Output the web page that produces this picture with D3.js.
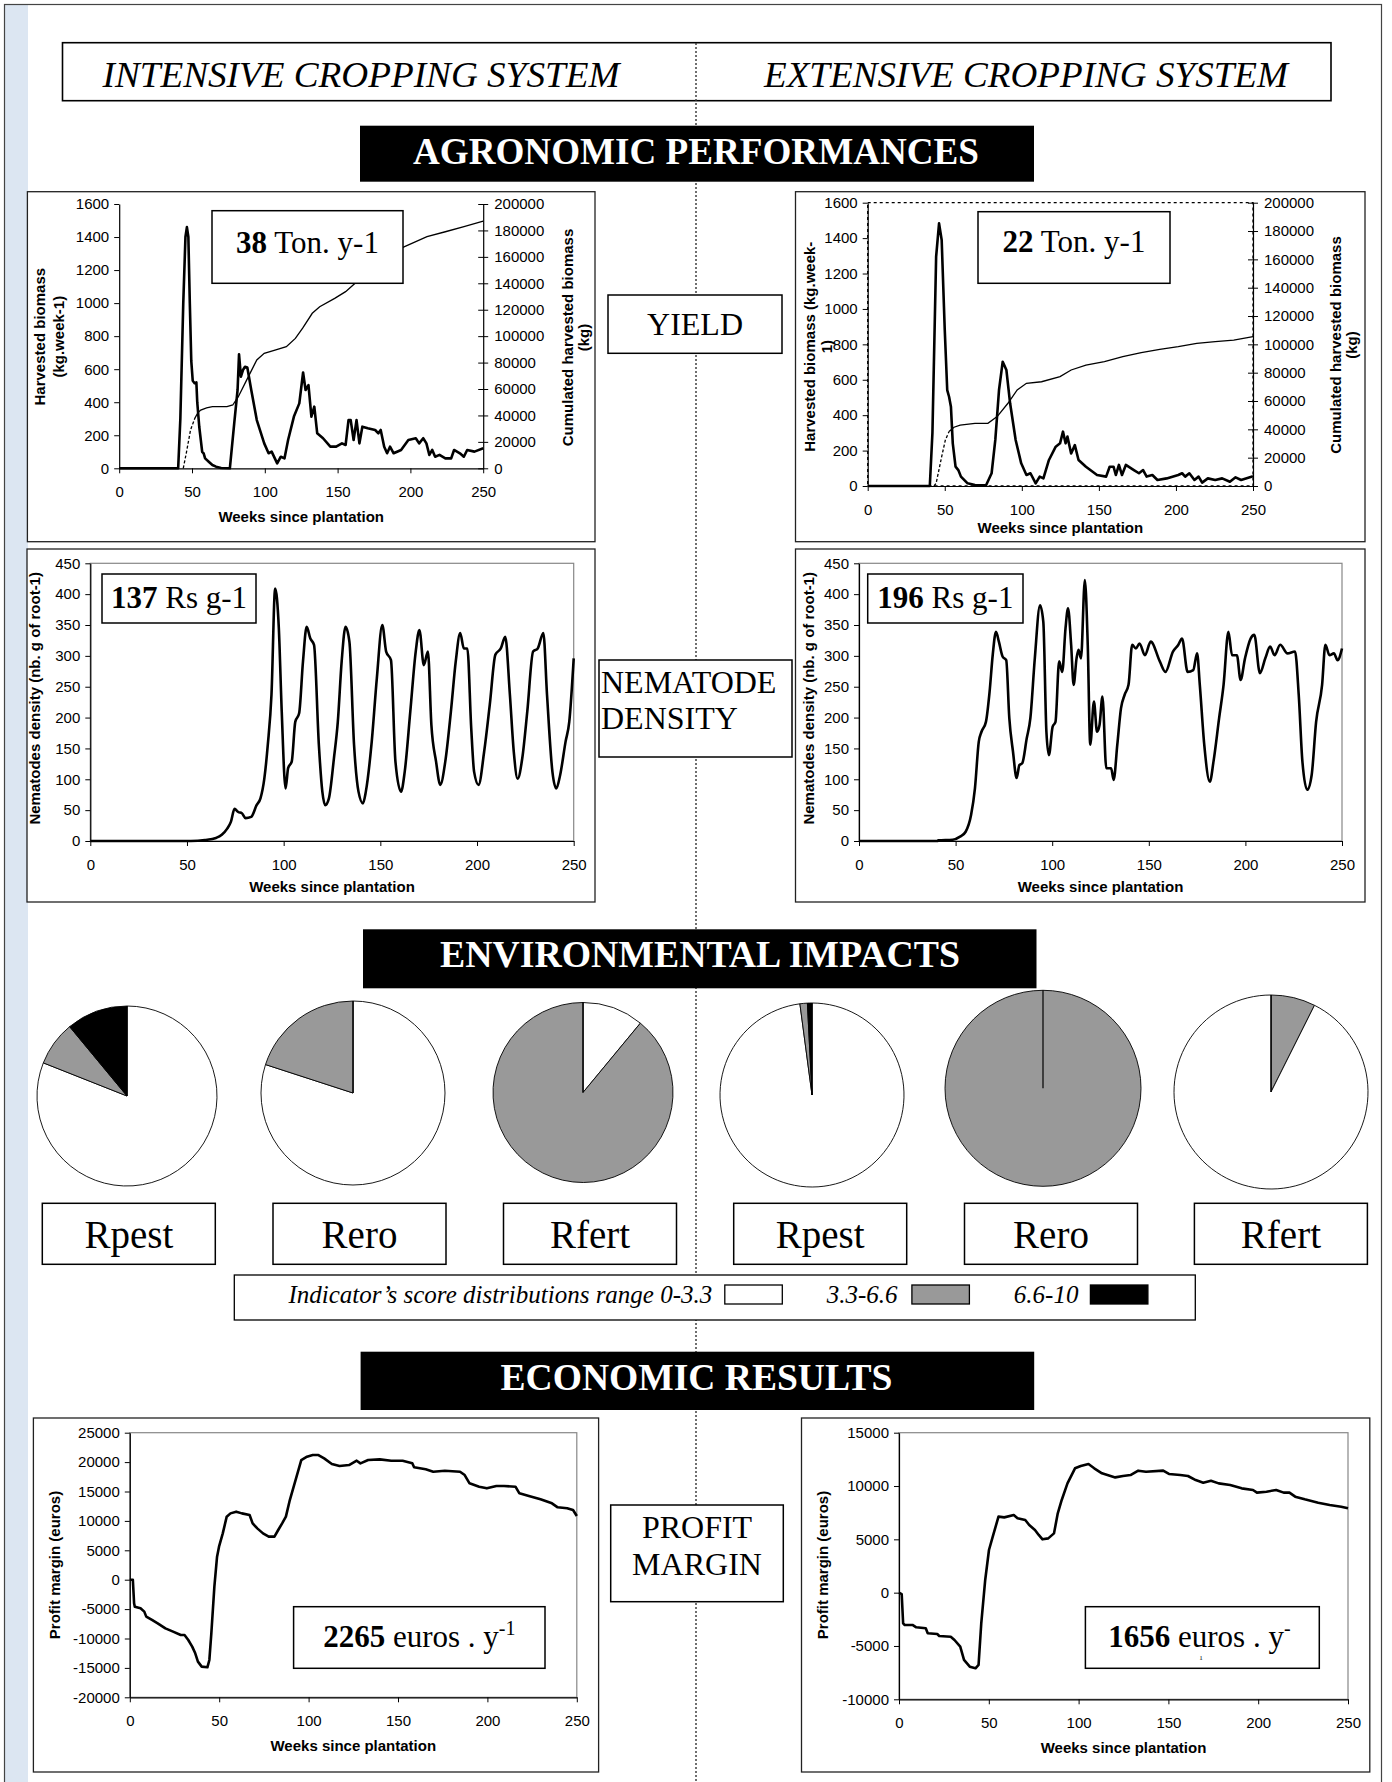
<!DOCTYPE html>
<html>
<head>
<meta charset="utf-8">
<script src="https://cdn.jsdelivr.net/npm/d3@7"></script>
<style>
  body { margin: 0; background: #fff; }
</style>
</head>
<body>
<script>
// ---- Data ----
var weekTicks = [0, 50, 100, 150, 200, 250];

// weekly harvested biomass (kg.week-1), [week, value]
var yieldIntensive = [[0,0],[40.5,0],[42,300],[44,1000],[45.5,1400],[46.5,1460],[47.5,1400],[48.5,1000],[49.5,650],[50.5,530],[51.8,515],[53,520],[53.6,400],[55,250],[57,100],[58,90],[59,60],[61.5,40],[64,20],[66.5,10],[70,2],[76,0],[79,272],[81.3,474],[82.3,690],[83.6,555],[85,595],[86.4,615],[88,610],[90.7,474],[94.5,292],[99.6,151],[102.6,91],[104.7,101],[108.5,30],[111,70],[113.5,60],[116,171],[120,313],[123.7,393],[126.3,580],[128,474],[130,504],[132,313],[134,373],[136,212],[140,182],[145,131],[149,131],[153,151],[155.5,141],[157.5,292],[159,292],[161,171],[163,292],[165,151],[167,252],[170.7,242],[175.8,232],[178,212],[179.6,232],[182,131],[184,91],[186,131],[188.5,91],[193.6,111],[198.6,171],[203.7,182],[206,151],[208.8,182],[211,151],[213,81],[215,111],[217,70],[220,81],[224,60],[228,60],[230,111],[234,91],[236.7,70],[239,111],[244,101],[250,121]];
var yieldExtensive = [[0,0],[40.3,0],[42,300],[44.4,1295],[46.3,1483],[48,1389],[50,881],[51.6,542],[52.8,504],[54,448],[55.2,241],[57,109],[58.8,90],[60.5,53],[64.8,15],[69.6,6],[76.8,4],[80.4,72],[82.8,260],[85.2,542],[87.6,702],[90,655],[92.4,467],[96,260],[99.6,128],[103,62],[105.6,72],[109,15],[111.6,53],[114,43],[117.6,147],[122,222],[124.8,241],[126.7,307],[128.4,241],[129.6,279],[132,184],[134.4,231],[136.8,147],[141.6,109],[148.8,62],[154.7,53],[157,109],[159.5,109],[161,62],[163,119],[165,62],[167.5,119],[172.7,90],[176,72],[178.7,90],[181,53],[184.7,62],[188,34],[194,43],[201.5,62],[204,72],[206,53],[208.7,72],[212,34],[214.7,53],[217,19],[220.7,43],[225.5,34],[230,43],[235,24],[238.7,49],[242.3,34],[249.5,53],[250,50]];

// cumulated harvested biomass (kg)
var cumIntensive = [[0,0],[44,0],[46,11000],[49,29000],[52,38000],[54,42000],[56,44100],[60,45800],[64,46600],[74,46700],[78,47900],[81.8,54200],[87,65600],[94.5,82000],[99.6,87000],[107,89500],[114.8,92000],[121,98300],[126,106000],[132.6,117300],[137.7,122300],[148,128600],[155.5,133700],[162,140000],[167,147500],[170.7,153800],[181,160100],[196,167700],[211.4,175300],[224,179000],[236.8,182900],[250,187000]];
var cumExtensive = [[0,0],[43,0],[44.4,1900],[48,20700],[50.4,32500],[52.8,38400],[56,41500],[60,43000],[69.6,44200],[78,44200],[84,49000],[91,58400],[97,67800],[103,72500],[112.8,73600],[124.8,77200],[132,81900],[141.6,85400],[153.6,87800],[165.5,91300],[177.5,94100],[189.5,96500],[201.5,98400],[213.5,100700],[225.5,101900],[237.5,103000],[250,105400]];

// nematode density (nb. g of root-1)
var nemIntensive = [[0,0],[52,0],[59.3,1.6],[65,5],[68,10],[70.8,20],[72.7,31],[74.6,52],[76.5,47],[78.4,45],[80.3,37],[83.2,39],[86,58],[88,69],[90,101],[91.8,156],[93.7,237],[95.6,409],[97.5,345],[99,210],[101,85],[102.3,118],[104.2,129],[106,193],[108,207],[110,291],[111.9,347],[113.8,328],[115.7,318],[118.2,156],[120,80],[121.5,58],[123.4,69],[126,134],[128,193],[130,291],[132,347],[134,323],[136.4,156],[138.7,80],[141,61],[142.5,80],[145.4,156],[148.2,264],[151,350],[153,307],[155.5,293],[157.8,129],[160.7,80],[162.6,112],[165.5,210],[168.3,307],[170.2,342],[172.5,285],[174.6,307],[176.4,188],[178.8,129],[181,91],[183.6,129],[186.5,210],[189,291],[191.3,337],[193.2,312],[195,312],[197,183],[198.5,112],[200.8,91],[203.7,145],[206.6,221],[209.5,302],[212.3,312],[214.6,331],[217,237],[219,145],[221,101],[223.4,134],[226,210],[229,307],[231.4,312],[234.3,337],[236.2,237],[239,112],[241,85],[243,107],[245.8,161],[247.7,193],[250,296]];
var nemExtensive = [[0,0],[40.8,0],[41,1],[48.5,2],[52.3,7],[55.2,15],[58,42],[60,85],[62,161],[63.4,177],[65.7,193],[67.6,242],[69.2,301],[70.9,339],[72.4,323],[74.3,299],[76.2,293],[77.8,199],[79.7,145],[81.6,102],[83,123],[84.5,126],[86.8,166],[88.7,199],[91,296],[93.7,382],[95.4,355],[97,177],[98.3,139],[100.2,185],[101.7,193],[103.6,291],[105.2,274],[106.9,345],[108.2,377],[109.8,318],[111.1,253],[112.6,296],[113.6,310],[114.9,296],[116.9,423],[118.4,318],[119.7,156],[121.6,226],[123.2,177],[124.5,188],[126,234],[128,118],[130.5,118],[131.8,99],[133.7,156],[135.6,215],[137.5,237],[139.5,253],[141.4,318],[143.3,312],[145.2,320],[148,301],[151,323],[155.7,291],[158.6,274],[162.5,307],[165.3,318],[167.2,328],[170.1,274],[173,277],[175,304],[176.4,253],[178.7,156],[181.6,96],[183.5,129],[186.4,199],[188.7,253],[191.2,339],[193.1,301],[195.6,301],[197.5,261],[199.8,296],[202.7,328],[204.6,334],[207.5,272],[210.3,296],[212.8,315],[215.1,301],[218,318],[221.8,304],[225.7,307],[227.6,237],[229.5,129],[232,83],[234.3,107],[236.6,193],[239.7,253],[241.4,318],[243.5,301],[245.8,304],[247.7,293],[250,312]];

// profit margin (euros)
var profitIntensive = [[0,0],[1.7,0],[2.4,-4000],[2.8,-4600],[6,-4870],[8.1,-5430],[9.2,-6280],[12.4,-6850],[15.6,-7420],[19.9,-8270],[24.2,-8830],[28.5,-9400],[30.6,-9400],[32.7,-10250],[34.9,-11380],[36.6,-12520],[38.1,-13930],[40.2,-14780],[43.4,-14900],[44.5,-13650],[45.6,-9120],[47.3,-1180],[48.8,3920],[49.9,5620],[52,7880],[54.2,10720],[56.3,11280],[59.5,11570],[62.7,11280],[67,11000],[68.7,9580],[71.3,8730],[74.5,7880],[77.7,7320],[80.9,7320],[83,8450],[85.2,9580],[87.3,10720],[89.5,13550],[92.7,16950],[95.9,20350],[99.1,20920],[102.3,21200],[105.5,21200],[108.7,20640],[113,19670],[117.3,19330],[122.6,19500],[126.9,20240],[129,19790],[133.3,20350],[139.8,20470],[146.2,20240],[152.6,20240],[158,19790],[159,19110],[165.5,18770],[169.7,18370],[176.2,18540],[184.7,18370],[187.3,17800],[190,16390],[195.4,15820],[199.7,15540],[205,15930],[209.3,15930],[215.7,15820],[217.9,14690],[223.2,14230],[229.7,13670],[236.1,12990],[239.3,12310],[244.6,12140],[247.9,11850],[250,10830]];
var profitExtensive = [[0,0],[1.5,-130],[2.3,-2880],[3.2,-3030],[7.5,-3030],[9.6,-3250],[14.9,-3340],[16,-3810],[21.3,-3880],[22.4,-4060],[28.8,-4130],[30.9,-4440],[34.1,-5060],[36.2,-6310],[39.4,-6940],[42.6,-7090],[44.3,-6780],[45.8,-2880],[48,1190],[50.1,4000],[52.2,5250],[55.4,7130],[58.6,7060],[63.9,7280],[66,6970],[70.3,6810],[72.5,6340],[75.7,5880],[77.8,5410],[79.9,5000],[83.1,5090],[86.3,5560],[88.4,7440],[90.6,8690],[93.8,10250],[98,11660],[101.2,11880],[105.5,12060],[108.7,11660],[113,11190],[120.4,10810],[124.7,10940],[128.9,11030],[133.2,11440],[137.5,11340],[147.1,11440],[150.3,11130],[156.6,11030],[160.9,10940],[165.2,10560],[169.4,10310],[173.7,10500],[178,10250],[184.4,10090],[190.8,9780],[197.1,9630],[199.3,9380],[204.6,9470],[210,9630],[214.2,9380],[217.4,9380],[220.6,9000],[225.9,8750],[233.4,8440],[239.8,8220],[246.2,8060],[250,7910]];

// environmental indicators: share of each score class (%)
var pieLabels = ["Rpest", "Rero", "Rfert"];
var scoreClasses = ["0-3.3", "3.3-6.6", "6.6-10"];
var intensiveShares = [[81, 8, 11], [80, 20, 0], [11, 89, 0]];
var extensiveShares = [[97.9, 1.3, 0.8], [0, 100, 0], [92.6, 7.4, 0]];

// ---- Page ----
var W = 1392, H = 1782;
var serif = "'Liberation Serif','Times New Roman',serif";
var sans = "'Liberation Sans',Arial,sans-serif";
var classColor = ["#ffffff", "#999999", "#000000"];

var svg = d3.select("body").append("svg")
  .attr("width", W)
  .attr("height", H)

// outer frame + blue strip on the left
svg.append("rect").attr("x", 5).attr("y", 5).attr("width", 23).attr("height", H)
  .attr("fill", "#dce6f2")
svg.append("rect").attr("x", 4.5).attr("y", 4.5).attr("width", 1377).attr("height", H + 10)
  .attr("fill", "none").attr("stroke", "#444").attr("stroke-width", 1.2)

// header box
svg.append("rect").attr("x", 62.5).attr("y", 42.7).attr("width", 1268.5).attr("height", 58)
  .attr("fill", "#fff").attr("stroke", "#000").attr("stroke-width", 1.6)

// dotted separator between the two systems
svg.append("line").attr("x1", 696).attr("x2", 696).attr("y1", 43).attr("y2", H)
  .attr("stroke", "#333").attr("stroke-width", 1.4).attr("stroke-dasharray", "2,2")

var headers = [["INTENSIVE CROPPING SYSTEM", 361, 517], ["EXTENSIVE CROPPING SYSTEM", 1026, 524]];
headers.forEach(function(h){
  svg.append("text").attr("x", h[1]).attr("y", 87)
    .attr("text-anchor", "middle")
    .attr("textLength", h[2]).attr("lengthAdjust", "spacingAndGlyphs")
    .style("font-family", serif).style("font-style", "italic").style("font-size", "36px")
    .text(h[0])
})

// black section banners
function banner(label, x, y, w, h, cx, base, tl) {
  svg.append("rect").attr("x", x).attr("y", y).attr("width", w).attr("height", h).attr("fill", "#000")
  svg.append("text").attr("x", cx).attr("y", base)
    .attr("text-anchor", "middle")
    .attr("textLength", tl).attr("lengthAdjust", "spacingAndGlyphs")
    .attr("fill", "#fff")
    .style("font-family", serif).style("font-weight", "bold").style("font-size", "38px")
    .text(label)
}
banner("AGRONOMIC PERFORMANCES", 360, 125.7, 674, 56, 696, 164.3, 566)
banner("ENVIRONMENTAL IMPACTS", 363, 929.3, 673.5, 59, 700, 966.7, 520)
banner("ECONOMIC RESULTS", 360.6, 1351.7, 673.6, 58.3, 696.5, 1390, 392)

// middle labels
function midLabel(lines, x, y, w, h, tx, anchor, bases) {
  svg.append("rect").attr("x", x).attr("y", y).attr("width", w).attr("height", h)
    .attr("fill", "#fff").attr("stroke", "#000").attr("stroke-width", 1.5)
  lines.forEach(function(l, i){
    svg.append("text").attr("x", tx).attr("y", bases[i])
      .attr("text-anchor", anchor)
      .style("font-family", serif).style("font-size", "32px")
      .text(l)
  })
}
midLabel(["YIELD"], 608, 295, 174, 58.3, 695, "middle", [335])
midLabel(["NEMATODE", "DENSITY"], 599, 660, 193, 97, 601, "start", [693, 729])
midLabel(["PROFIT", "MARGIN"], 610.7, 1505, 172.6, 96.7, 697, "middle", [1538.3, 1575])

// ---- line charts ----
var fmt = function(d){ return String(d) };

function annotation(box, cx, base, bold, rest, sup, size) {
  svg.append("rect").attr("x", box[0]).attr("y", box[1])
    .attr("width", box[2] - box[0]).attr("height", box[3] - box[1])
    .attr("fill", "#fff").attr("stroke", "#000").attr("stroke-width", 1.5)
  var t = svg.append("text").attr("x", cx).attr("y", base)
    .attr("text-anchor", "middle")
    .style("font-family", serif).style("font-size", size + "px")
  t.append("tspan").style("font-weight", "bold").text(bold)
  t.append("tspan").text(rest)
  if (sup) t.append("tspan").attr("dy", -12).style("font-size", "20px").text(sup)
}

function rotTitle(lines, xs, cy) {
  lines.forEach(function(l, i){
    svg.append("text")
      .attr("transform", "translate(" + xs[i] + "," + cy + ") rotate(-90)")
      .attr("text-anchor", "middle")
      .style("font-family", sans).style("font-weight", "bold").style("font-size", "15px")
      .text(l)
  })
}

function styleAxis(g) {
  g.selectAll("text").style("font-family", sans).style("font-size", "15px").attr("fill", "#000")
  g.selectAll("line").attr("stroke", "#000")
  g.select(".domain").attr("stroke", "#000").attr("stroke-width", 1.2)
}

function panel(p) {
  // chart frame
  svg.append("rect").attr("x", p.box[0]).attr("y", p.box[1])
    .attr("width", p.box[2] - p.box[0]).attr("height", p.box[3] - p.box[1])
    .attr("fill", "#fff").attr("stroke", "#222").attr("stroke-width", 1.3)

  var x = d3.scaleLinear().domain([0, 250]).range([p.plot[0], p.plot[2]]);
  var y = d3.scaleLinear().domain(p.yDomain).range([p.plot[3], p.plot[1]]);

  // plot-area border
  if (p.frame) {
    svg.append("rect").attr("x", p.plot[0]).attr("y", p.plot[1])
      .attr("width", p.plot[2] - p.plot[0]).attr("height", p.plot[3] - p.plot[1])
      .attr("fill", "none")
      .attr("stroke", p.frame == "dotted" ? "#000" : "#888")
      .attr("stroke-width", p.frame == "dotted" ? 1.3 : 1.2)
      .attr("stroke-dasharray", p.frame == "dotted" ? "3,3" : null)
  }

  var gx = svg.append("g").attr("transform", "translate(0," + p.plot[3] + ")")
    .call(d3.axisBottom(x).tickValues(weekTicks).tickSize(5).tickPadding(13).tickSizeOuter(0).tickFormat(fmt))
  styleAxis(gx)
  var gy = svg.append("g").attr("transform", "translate(" + p.plot[0] + ",0)")
    .call(d3.axisLeft(y).tickValues(p.yTicks).tickSize(5).tickPadding(5).tickSizeOuter(0).tickFormat(fmt))
  styleAxis(gy)

  // secondary axis (cumulated biomass)
  if (p.y2Domain) {
    var y2 = d3.scaleLinear().domain(p.y2Domain).range([p.plot[3], p.plot[1]]);
    var gy2 = svg.append("g").attr("transform", "translate(" + p.plot[2] + ",0)")
      .call(d3.axisRight(y2).tickValues(d3.range(0, p.y2Domain[1] + 1, 20000)).tickSize(5).tickPadding(6).tickSizeOuter(0).tickFormat(fmt))
    styleAxis(gy2)
    gy2.selectAll(".tick line").attr("x1", -5)

    var line2 = d3.line().x(function(d){ return x(d[0]) }).y(function(d){ return y2(d[1]) })
    var dashed = p.cum.filter(function(d){ return d[0] <= p.dashUntil })
    var solid = p.cum.filter(function(d){ return d[0] >= dashed[dashed.length - 1][0] })
    svg.append("path").attr("d", line2(dashed.filter(function(d, i){ return d[1] > 0 || i == dashed.length - 1 || dashed[i+1][1] > 0 })))
      .attr("fill", "none").attr("stroke", "#000").attr("stroke-width", 1.3).attr("stroke-dasharray", "3,2")
    svg.append("path").attr("d", line2(solid))
      .attr("fill", "none").attr("stroke", "#000").attr("stroke-width", 1.3)
  }

  var line = d3.line().x(function(d){ return x(d[0]) }).y(function(d){ return y(d[1]) })
    .curve(p.smooth ? d3.curveMonotoneX : d3.curveLinear)
  svg.append("path").attr("d", line(p.data))
    .attr("fill", "none").attr("stroke", "#000").attr("stroke-width", 2.6)
    .attr("stroke-linejoin", "round")

  // titles
  svg.append("text").attr("x", (p.plot[0] + p.plot[2]) / 2).attr("y", p.plot[3] + p.xTitleDy)
    .attr("text-anchor", "middle")
    .style("font-family", sans).style("font-weight", "bold").style("font-size", "15px")
    .text("Weeks since plantation")
  rotTitle(p.yTitle, p.yTitleX, p.yTitleY)
  if (p.y2Title) rotTitle(p.y2Title, p.y2TitleX, p.y2TitleY)
}

// yield panels
panel({box: [27.4, 191.7, 595, 541.7], plot: [119.2, 204, 483.2, 468.3],
  yDomain: [0, 1600], yTicks: d3.range(0, 1601, 200), data: yieldIntensive,
  y2Domain: [0, 200000], cum: cumIntensive, dashUntil: 53,
  xTitleDy: 54,
  yTitle: ["Harvested biomass", "(kg.week-1)"], yTitleX: [45, 64], yTitleY: 336.7,
  y2Title: ["Cumulated harvested biomass", "(kg)"], y2TitleX: [572.6, 589], y2TitleY: 337.5})
annotation([212, 210.7, 403, 283.3], 307.5, 253.3, "38", " Ton. y-1", null, 31)

panel({box: [795.5, 191.7, 1365, 541.7], plot: [867.7, 202.7, 1253, 486], frame: "dotted",
  yDomain: [0, 1600], yTicks: d3.range(0, 1601, 200), data: yieldExtensive,
  y2Domain: [0, 200000], cum: cumExtensive, dashUntil: 53,
  xTitleDy: 47,
  yTitle: ["Harvested biomass  (kg.week-", "1)"], yTitleX: [815, 832], yTitleY: 346.7,
  y2Title: ["Cumulated harvested biomass", "(kg)"], y2TitleX: [1341, 1357], y2TitleY: 345})
annotation([978, 211.7, 1170, 283.3], 1074, 251.7, "22", " Ton. y-1", null, 31)

// nematode panels
panel({box: [27, 549, 595, 902], plot: [90.3, 563.3, 573.7, 841], frame: "gray", smooth: true,
  yDomain: [0, 450], yTicks: d3.range(0, 451, 50), data: nemIntensive,
  xTitleDy: 51,
  yTitle: ["Nematodes density (nb. g of root-1)"], yTitleX: [40], yTitleY: 698.3})
annotation([102, 574, 256, 623], 179, 608.3, "137", " Rs g-1", null, 31)

panel({box: [795.5, 549, 1365, 902], plot: [859, 563.3, 1342, 841], frame: "gray", smooth: true,
  yDomain: [0, 450], yTicks: d3.range(0, 451, 50), data: nemExtensive,
  xTitleDy: 51,
  yTitle: ["Nematodes density (nb. g of root-1)"], yTitleX: [813.5], yTitleY: 698.3})
annotation([867.7, 574, 1023, 623], 945.4, 608.3, "196", " Rs g-1", null, 31)

// profit panels
panel({box: [33.4, 1418, 598.6, 1772], plot: [129.8, 1432.7, 576.8, 1697.3], frame: "gray",
  yDomain: [-20000, 25000], yTicks: d3.range(-20000, 25001, 5000), data: profitIntensive,
  xTitleDy: 54,
  yTitle: ["Profit margin (euros)"], yTitleX: [60], yTitleY: 1565})
annotation([293.6, 1606.7, 545, 1668.3], 419.3, 1646.7, "2265", " euros . y", "-1", 31)

panel({box: [801.5, 1418, 1369.8, 1772], plot: [899, 1432.7, 1348, 1699.3], frame: "gray",
  yDomain: [-10000, 15000], yTicks: d3.range(-10000, 15001, 5000), data: profitExtensive,
  xTitleDy: 54,
  yTitle: ["Profit margin (euros)"], yTitleX: [827.5], yTitleY: 1565})
annotation([1085.4, 1606.7, 1319.3, 1668.3], 1199.4, 1646.7, "1656", " euros . y", "-", 31)
svg.append("text").attr("x", 1201).attr("y", 1660).attr("text-anchor", "middle")
  .style("font-family", serif).style("font-size", "7px").text("1")

// ---- pies ----
var pieCx = [127, 353, 583, 812, 1043, 1271];
var pieR = [90, 92, 90, 92, 98, 97];
var pieCy = [1096, 1093, 1092.5, 1095, 1088.3, 1092];
var pieOrder = [[0,1,2],[0,1,2],[0,1,2],[0,1,2],[0,1,2],[1,0,2]];
var labelX = [42.3, 273, 503.5, 733.7, 964.5, 1194.4];

var allShares = intensiveShares.concat(extensiveShares);
var pie = d3.pie().sort(null).value(function(d){ return d.v });

allShares.forEach(function(shares, i){
  var slices = pieOrder[i].map(function(k){ return {k: k, v: shares[k]} });
  var arc = d3.arc().innerRadius(0).outerRadius(pieR[i]);
  var g = svg.append("g").attr("transform", "translate(" + pieCx[i] + "," + pieCy[i] + ")");
  g.selectAll("path").data(pie(slices).filter(function(d){ return d.data.v > 0 }))
    .enter().append("path")
    .attr("d", arc)
    .attr("fill", function(d){ return classColor[d.data.k] })
    .attr("stroke", "#000").attr("stroke-width", 0.9)
  // start radius (visible even when one class fills the whole pie)
  g.append("line").attr("x1", 0).attr("y1", 0).attr("x2", 0).attr("y2", -pieR[i])
    .attr("stroke", "#000").attr("stroke-width", 1.2)

  svg.append("rect").attr("x", labelX[i]).attr("y", 1203.3).attr("width", 173).attr("height", 61)
    .attr("fill", "#fff").attr("stroke", "#000").attr("stroke-width", 1.5)
  svg.append("text").attr("x", labelX[i] + 86.5).attr("y", 1248)
    .attr("text-anchor", "middle")
    .style("font-family", serif).style("font-size", "39px")
    .text(pieLabels[i % 3])
})

// legend
svg.append("rect").attr("x", 234.3).attr("y", 1275).attr("width", 961).attr("height", 45)
  .attr("fill", "#fff").attr("stroke", "#000").attr("stroke-width", 1.3)
var legText = ["Indicator\u2019s score distributions range " + scoreClasses[0], scoreClasses[1], scoreClasses[2]];
var legEnd = [712.3, 897.6, 1078.4];
var swatchX = [724.8, 911.9, 1090.4];
legText.forEach(function(t, i){
  svg.append("text").attr("x", legEnd[i]).attr("y", 1303.3)
    .attr("text-anchor", "end")
    .style("font-family", serif).style("font-style", "italic").style("font-size", "25px")
    .text(t)
  svg.append("rect").attr("x", swatchX[i]).attr("y", 1285).attr("width", 57.5).attr("height", 19)
    .attr("fill", classColor[i]).attr("stroke", "#000").attr("stroke-width", 1.3)
})
</script>
</body>
</html>
